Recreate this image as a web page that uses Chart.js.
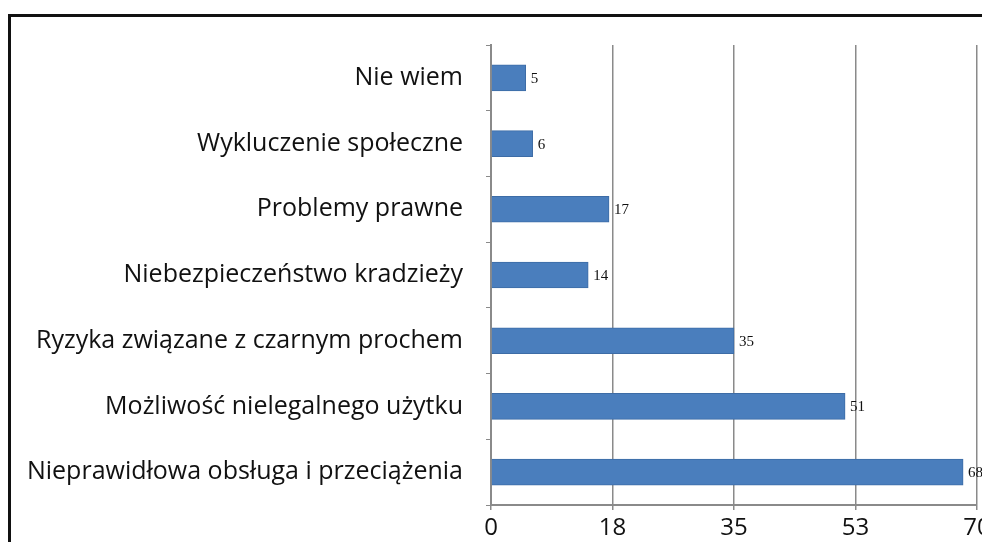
<!DOCTYPE html>
<html>
<head>
<meta charset="utf-8">
<script src="https://cdn.jsdelivr.net/npm/chart.js@4.4.1/dist/chart.umd.min.js"></script>
<style>
    html, body {
        margin: 0;
        padding: 0;
        background: #ffffff;
        overflow: hidden;
        width: 982px;
        height: 542px;
    }
    .frame {
        position: absolute;
        left: 8px;
        top: 14px;
        width: 1040px;
        height: 600px;
        border: 3px solid #111111;
        box-sizing: border-box;
    }
    .wrap {
        position: absolute;
        left: 0;
        top: 0;
        width: 1010px;
        height: 560px;
    }
</style>
</head>
<body>
<div class="frame"></div>
<div class="wrap"><canvas id="risksChart" width="1010" height="560"></canvas></div>
<script>
// Answers, top to bottom
var categories = [
    'Nie wiem',
    'Wykluczenie społeczne',
    'Problemy prawne',
    'Niebezpieczeństwo kradzieży',
    'Ryzyka związane z czarnym prochem',
    'Możliwość nielegalnego użytku',
    'Nieprawidłowa obsługa i przeciążenia'
];
var counts = [5, 6, 17, 14, 35, 51, 68];
var axisMax = 70;
var axisStep = 17.5;

var colors = {
    bar: '#4a7ebd',
    barEdge: '#3d6ca6',
    grid: '#8a8a8a',
    text: '#111111'
};

// Value printed just past the end of each bar
var valueLabels = {
    id: 'valueLabels',
    afterDatasetsDraw: function (chart) {
        var ctx = chart.ctx;
        var meta = chart.getDatasetMeta(0);
        ctx.save();
        ctx.font = '15px "Liberation Serif", "DejaVu Serif", serif';
        ctx.fillStyle = colors.text;
        ctx.textBaseline = 'middle';
        ctx.textAlign = 'left';
        meta.data.forEach(function (bar, i) {
            ctx.fillText(String(counts[i]), bar.x + 5, bar.y + 1);
        });
        ctx.restore();
    }
};

new Chart(document.getElementById('risksChart'), {
    type: 'bar',
    data: {
        labels: categories,
        datasets: [{
            data: counts,
            backgroundColor: colors.bar,
            borderColor: colors.barEdge,
            borderWidth: 1,
            barThickness: 26
        }]
    },
    options: {
        indexAxis: 'y',
        responsive: false,
        animation: false,
        layout: {
            padding: { left: 0, top: 45, right: 33, bottom: 0 }
        },
        scales: {
            x: {
                min: 0,
                max: axisMax,
                afterBuildTicks: function (scale) {
                    var t = [];
                    for (var v = 0; v <= axisMax + 0.001; v += axisStep) {
                        t.push({ value: v });
                    }
                    scale.ticks = t;
                },
                afterFit: function (scale) {
                    scale.height = 55;
                },
                grid: {
                    color: colors.grid,
                    lineWidth: 1.5,
                    drawTicks: true,
                    tickLength: 5,
                    tickColor: colors.grid
                },
                border: {
                    color: colors.grid,
                    width: 2
                },
                ticks: {
                    padding: 4,
                    color: colors.text,
                    font: { family: '"Open Sans", sans-serif', size: 24 },
                    callback: function (value) {
                        return Math.round(value);
                    }
                }
            },
            y: {
                afterFit: function (scale) {
                    scale.width = 491;
                },
                grid: {
                    drawOnChartArea: false,
                    drawTicks: true,
                    tickLength: 5,
                    tickColor: colors.grid,
                    offset: true
                },
                border: {
                    color: colors.grid,
                    width: 2
                },
                ticks: {
                    padding: 23,
                    color: colors.text,
                    font: { family: '"Open Sans", sans-serif', size: 25 }
                }
            }
        },
        plugins: {
            legend: { display: false },
            tooltip: { enabled: false }
        }
    },
    plugins: [valueLabels]
});
</script>
</body>
</html>
